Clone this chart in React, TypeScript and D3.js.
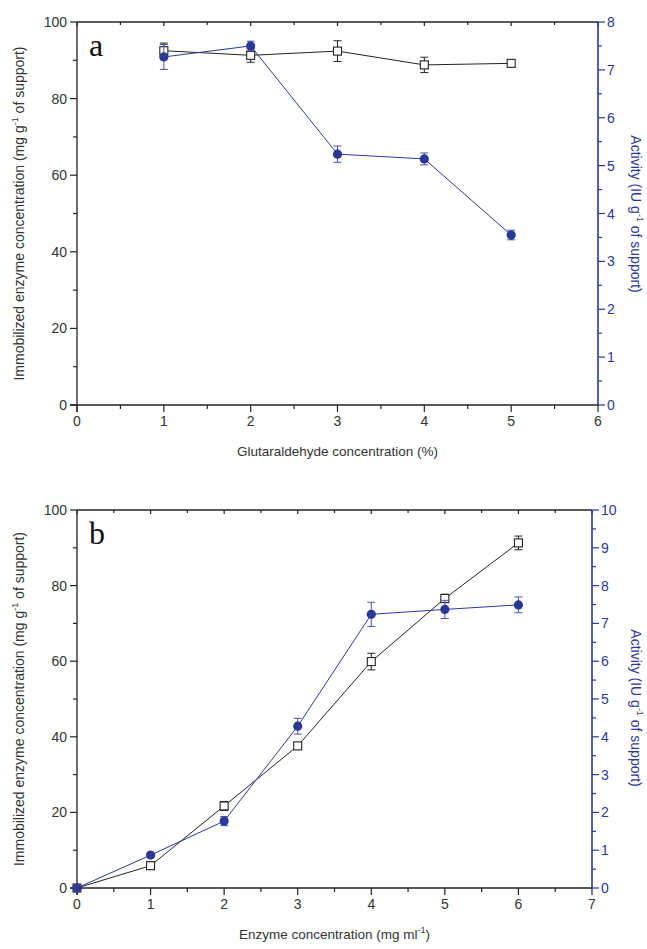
import React from 'react'
import {scaleLinear, range, line} from 'd3'

const width = 647
const height = 949

// panel a: glutaraldehyde
const glutX = [1, 2, 3, 4, 5]
const glutImmob = [92.5, 91.3, 92.4, 88.8, 89.2]
const glutImmobErr = [2.0, 1.8, 2.7, 2.0, 1.0]
const glutActivity = [7.27, 7.5, 5.24, 5.14, 3.55]
const glutActivityErr = [0.26, 0.1, 0.17, 0.125, 0.1]

// panel b: enzyme
const enzX = [0, 1, 2, 3, 4, 5, 6]
const enzImmob = [0, 5.9, 21.7, 37.6, 59.9, 76.6, 91.3]
const enzImmobErr = [0, 1.0, 1.2, 0.8, 2.2, 1.1, 1.8]
const enzActivity = [0, 0.87, 1.77, 4.28, 7.24, 7.37, 7.49]
const enzActivityErr = [0, 0.05, 0.12, 0.21, 0.32, 0.24, 0.21]

const leftTicks = [0, 20, 40, 60, 80, 100]
const xTicksA = [0, 1, 2, 3, 4, 5, 6]
const xTicksB = [0, 1, 2, 3, 4, 5, 6, 7]
const rightTicksA = [0, 1, 2, 3, 4, 5, 6, 7, 8]
const rightTicksB = [0, 1, 2, 3, 4, 5, 6, 7, 8, 9, 10]

const BLACK = '#222'
const BLUE = '#2b3897'
const FONT = 'Liberation Sans, Arial, sans-serif'

function Panel({box, label, xMax, xTicks, rightMax, rightTicks, xs, immob, immobErr, act, actErr, xTitle, rightTitleY}) {
    const {x0, x1, y0, y1} = box
    const x = scaleLinear().domain([0, xMax]).range([x0, x1])
    const yL = scaleLinear().domain([0, 100]).range([y1, y0])
    const yR = scaleLinear().domain([0, rightMax]).range([y1, y0])

    const blackLine = line().x((d, i) => x(xs[i])).y(d => yL(d))
    const blueLine = line().x((d, i) => x(xs[i])).y(d => yR(d))

    const xMinor = range(0.5, xMax, 1)
    const leftMinor = range(10, 100, 20)
    const rightMinor = range(0.5, rightMax, 1)
    const midY = (y0 + y1) / 2
    const cap = 4

    return (
        <g>
            {/* frame: left, bottom, top in black; right in blue */}
            <line x1={x0} x2={x0} y1={y0} y2={y1 + 7} stroke={BLACK} strokeWidth={1.3} />
            <line x1={x0 - 7} x2={x1} y1={y1} y2={y1} stroke={BLACK} strokeWidth={1.3} />
            <line x1={x0} x2={x1} y1={y0} y2={y0} stroke={BLACK} strokeWidth={1.3} />

            {/* bottom ticks outward, top ticks inward */}
            {xTicks.map(t => (
                <g key={'xt' + t}>
                    <line x1={x(t)} x2={x(t)} y1={y1} y2={y1 + 7} stroke={BLACK} strokeWidth={1.2} />
                    <line x1={x(t)} x2={x(t)} y1={y0} y2={y0 + 4} stroke={BLACK} strokeWidth={1.2} />
                    <text x={x(t)} y={y1 + 21} textAnchor="middle" fontSize={14} fill="#333" fontFamily={FONT}>{t}</text>
                </g>
            ))}
            {xMinor.map(t => (
                <g key={'xm' + t}>
                    <line x1={x(t)} x2={x(t)} y1={y1} y2={y1 + 4} stroke={BLACK} strokeWidth={1.2} />
                    <line x1={x(t)} x2={x(t)} y1={y0} y2={y0 + 3} stroke={BLACK} strokeWidth={1.2} />
                </g>
            ))}

            {leftTicks.map(t => (
                <g key={'yl' + t}>
                    <line x1={x0 - 7} x2={x0} y1={yL(t)} y2={yL(t)} stroke={BLACK} strokeWidth={1.2} />
                    <text x={x0 - 10} y={yL(t) + 5} textAnchor="end" fontSize={14} fill="#333" fontFamily={FONT}>{t}</text>
                </g>
            ))}
            {leftMinor.map(t => (
                <line key={'ylm' + t} x1={x0 - 4} x2={x0} y1={yL(t)} y2={yL(t)} stroke={BLACK} strokeWidth={1.2} />
            ))}

            <line x1={x1} x2={x1} y1={y0} y2={y1} stroke={BLUE} strokeWidth={1.6} />
            {rightTicks.map(t => (
                <g key={'yr' + t}>
                    <line x1={x1} x2={x1 + 7} y1={yR(t)} y2={yR(t)} stroke={BLUE} strokeWidth={1.2} />
                    <text x={x1 + 9} y={yR(t) + 5} fontSize={14} fill={BLUE} fontFamily={FONT}>{t}</text>
                </g>
            ))}
            {rightMinor.map(t => (
                <line key={'yrm' + t} x1={x1} x2={x1 + 4} y1={yR(t)} y2={yR(t)} stroke={BLUE} strokeWidth={1.2} />
            ))}

            {/* axis titles */}
            <text transform={`translate(24,${midY}) rotate(-90)`} textAnchor="middle" fontSize={14} fill="#333" fontFamily={FONT}>
                Immobilized enzyme concentration (mg g<tspan dy={-6} fontSize={9}>-1</tspan><tspan dy={6}> of support)</tspan>
            </text>
            <text transform={`translate(631,${rightTitleY}) rotate(90)`} textAnchor="middle" fontSize={14} fill={BLUE} fontFamily={FONT}>
                Activity (IU g<tspan dy={-6} fontSize={9}>-1</tspan><tspan dy={6}> of support)</tspan>
            </text>
            <text x={(x0 + x1) / 2} y={y1 + 51} textAnchor="middle" fontSize={13.5} fill="#333" fontFamily={FONT}>{xTitle}</text>

            <text x={x0 + 12} y={y0 + 34} fontSize={32} fontFamily="Liberation Serif, Times New Roman, serif" fill="#111">{label}</text>

            {/* immobilized (black, open squares) */}
            <path d={blackLine(immob)} fill="none" stroke={BLACK} strokeWidth={1} />
            {immob.map((v, i) => (
                <g key={'sq' + i}>
                    {immobErr[i] > 0 && (
                        <g stroke={BLACK} strokeWidth={1}>
                            <line x1={x(xs[i])} x2={x(xs[i])} y1={yL(v - immobErr[i])} y2={yL(v + immobErr[i])} />
                            <line x1={x(xs[i]) - cap} x2={x(xs[i]) + cap} y1={yL(v - immobErr[i])} y2={yL(v - immobErr[i])} />
                            <line x1={x(xs[i]) - cap} x2={x(xs[i]) + cap} y1={yL(v + immobErr[i])} y2={yL(v + immobErr[i])} />
                        </g>
                    )}
                    <rect x={x(xs[i]) - 4} y={yL(v) - 4} width={8} height={8} fill="#fff" stroke={BLACK} strokeWidth={1.1} />
                </g>
            ))}

            {/* activity (blue, filled circles) */}
            <path d={blueLine(act)} fill="none" stroke={BLUE} strokeWidth={1} />
            {act.map((v, i) => (
                <g key={'ci' + i}>
                    {actErr[i] > 0 && (
                        <g stroke="#4a56a8" strokeWidth={1}>
                            <line x1={x(xs[i])} x2={x(xs[i])} y1={yR(v - actErr[i])} y2={yR(v + actErr[i])} />
                            <line x1={x(xs[i]) - cap} x2={x(xs[i]) + cap} y1={yR(v - actErr[i])} y2={yR(v - actErr[i])} />
                            <line x1={x(xs[i]) - cap} x2={x(xs[i]) + cap} y1={yR(v + actErr[i])} y2={yR(v + actErr[i])} />
                        </g>
                    )}
                    <circle cx={x(xs[i])} cy={yR(v)} r={4.6} fill={BLUE} />
                </g>
            ))}
        </g>
    )
}

export default function App() {
    return (
        <svg width={width} height={height} style={{position: 'absolute', left: 0, top: 0, background: '#fff'}}>
            <rect width={width} height={height} fill="#fff" />
            <Panel
                box={{x0: 77, x1: 598, y0: 22, y1: 405}}
                label="a"
                xMax={6}
                xTicks={xTicksA}
                rightMax={8}
                rightTicks={rightTicksA}
                xs={glutX}
                immob={glutImmob}
                immobErr={glutImmobErr}
                act={glutActivity}
                actErr={glutActivityErr}
                xTitle="Glutaraldehyde concentration (%)"
                rightTitleY={214}
            />
            <Panel
                box={{x0: 77, x1: 592, y0: 510, y1: 888}}
                label="b"
                xMax={7}
                xTicks={xTicksB}
                rightMax={10}
                rightTicks={rightTicksB}
                xs={enzX}
                immob={enzImmob}
                immobErr={enzImmobErr}
                act={enzActivity}
                actErr={enzActivityErr}
                xTitle={<>Enzyme concentration (mg ml<tspan dy={-6} fontSize={9}>-1</tspan><tspan dy={6}>)</tspan></>}
                rightTitleY={708}
            />
        </svg>
    )
}
